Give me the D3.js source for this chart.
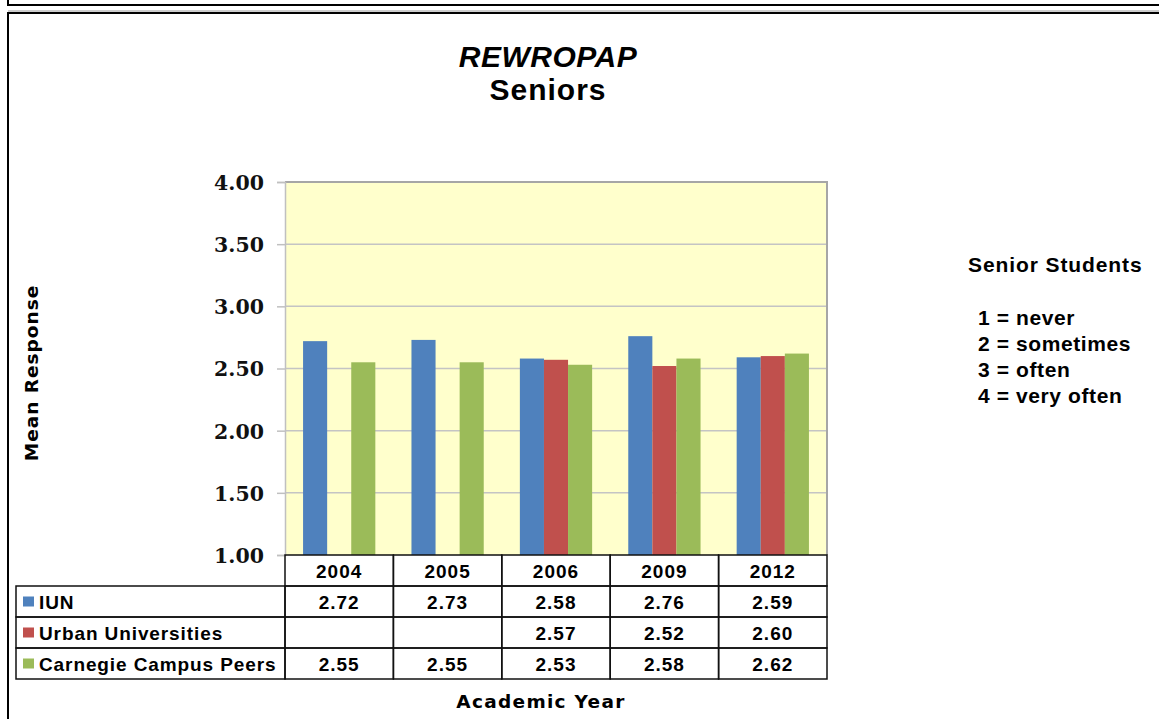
<!DOCTYPE html>
<html>
<head>
<meta charset="utf-8">
<script src="https://cdn.jsdelivr.net/npm/d3@7"></script>
<style>
  body { margin: 0; background: #fff; }
  svg { display: block; }
</style>
</head>
<body>
<svg></svg>
<script>
var width = 1159;
var height = 719;

// data
var years = ["2004", "2005", "2006", "2009", "2012"];
var seriesNames = ["IUN", "Urban Universities", "Carnegie Campus Peers"];
var iun = [2.72, 2.73, 2.58, 2.76, 2.59];
var urban = [null, null, 2.57, 2.52, 2.60];
var carnegie = [2.55, 2.55, 2.53, 2.58, 2.62];
var yTicks = [1.00, 1.50, 2.00, 2.50, 3.00, 3.50, 4.00];
var scaleNotes = ["1 = never", "2 = sometimes", "3 = often", "4 = very often"];

var colors = ["#4f81bd", "#c0504d", "#9bbb59"];
var seriesValues = [iun, urban, carnegie];

var svg = d3.select("svg")
    .attr("width", width)
    .attr("height", height);

//outer frame lines
svg.append("line")
    .attr("x1", 7).attr("x2", width).attr("y1", 5).attr("y2", 5)
    .attr("stroke", "#000").attr("stroke-width", 2);
svg.append("line")
    .attr("x1", 8).attr("x2", 8).attr("y1", 0).attr("y2", 6)
    .attr("stroke", "#000").attr("stroke-width", 2);
svg.append("line")
    .attr("x1", 8).attr("x2", width).attr("y1", 11).attr("y2", 11)
    .attr("stroke", "#999").attr("stroke-width", 1);
svg.append("rect")
    .attr("x", 8).attr("y", 13).attr("width", width + 10).attr("height", height + 10)
    .attr("fill", "none").attr("stroke", "#000").attr("stroke-width", 2);

var plot = {left: 285, right: 827, top: 182, bottom: 555};

//scales
var xScale = d3.scaleBand()
    .domain(years)
    .range([plot.left, plot.right]);
var inner = d3.scaleBand()
    .domain(seriesNames)
    .range([0, xScale.bandwidth()])
    .paddingInner(0)
    .paddingOuter(0.75);
var yScale = d3.scaleLinear()
    .domain([1, 4])
    .range([plot.bottom, plot.top]);

//plot background
svg.append("rect")
    .attr("x", plot.left).attr("y", plot.top)
    .attr("width", plot.right - plot.left).attr("height", plot.bottom - plot.top)
    .attr("fill", "#ffffcc");

//grid lines
svg.append("g")
    .selectAll("line")
    .data(yTicks.filter(d => d > 1 && d < 4))
    .enter()
    .append("line")
    .attr("x1", plot.left).attr("x2", plot.right)
    .attr("y1", d => yScale(d)).attr("y2", d => yScale(d))
    .attr("stroke", "#c4c4c4").attr("stroke-width", 1.5);

//plot border top and right
svg.append("path")
    .attr("d", "M" + plot.left + "," + plot.top + "H" + plot.right + "V" + plot.bottom)
    .attr("fill", "none").attr("stroke", "#a6a6a6").attr("stroke-width", 2);

//y axis
var yAxis = d3.axisLeft(yScale)
    .tickValues(yTicks)
    .tickSize(8)
    .tickPadding(13)
    .tickFormat(d3.format(".2f"));
var yAxisG = svg.append("g")
    .attr("transform", "translate(" + plot.left + ",0)")
    .call(yAxis);
yAxisG.select(".domain").attr("stroke", "#c0c0c0").attr("stroke-width", 1.5);
yAxisG.selectAll(".tick line").attr("stroke", "#c0c0c0").attr("stroke-width", 1.5);
yAxisG.selectAll(".tick text")
    .attr("font-family", "DejaVu Serif")
    .attr("font-weight", "bold")
    .attr("font-size", 20.5)
    .attr("fill", "#111")
    .attr("dy", "0.36em");

//bars
var bars = svg.append("g")
    .selectAll("g")
    .data(seriesNames)
    .enter()
    .append("g")
    .attr("fill", (d, i) => colors[i]);
bars.selectAll("rect")
    .data((s, i) => years.map((y, j) => ({year: y, series: s, value: seriesValues[i][j]})).filter(d => d.value != null))
    .enter()
    .append("rect")
    .attr("x", d => xScale(d.year) + inner(d.series))
    .attr("width", inner.bandwidth())
    .attr("y", d => yScale(d.value))
    .attr("height", d => yScale(1) - yScale(d.value));

//data table
var rowH = 31;
var headTop = plot.bottom;
var tableLeft = 16;
var table = svg.append("g");
var lineColor = "#111";
var tableFont = "Liberation Sans, Arial, sans-serif";

//header cells
years.forEach(function(y) {
    table.append("rect")
        .attr("x", xScale(y)).attr("y", headTop)
        .attr("width", xScale.bandwidth()).attr("height", rowH)
        .attr("fill", "none").attr("stroke", lineColor).attr("stroke-width", 1.5);
    table.append("text")
        .attr("x", xScale(y) + xScale.bandwidth() / 2)
        .attr("y", headTop + rowH / 2 + 7)
        .attr("text-anchor", "middle")
        .attr("font-family", tableFont)
        .attr("font-weight", "bold")
        .attr("font-size", 19)
        .attr("letter-spacing", 1)
        .text(y);
});

seriesNames.forEach(function(s, i) {
    var top = headTop + rowH * (i + 1);
    table.append("rect")
        .attr("x", tableLeft).attr("y", top)
        .attr("width", plot.left - tableLeft).attr("height", rowH)
        .attr("fill", "none").attr("stroke", lineColor).attr("stroke-width", 1.5);
    table.append("rect")
        .attr("x", tableLeft + 7).attr("y", top + rowH / 2 - 5)
        .attr("width", 11).attr("height", 10)
        .attr("fill", colors[i]);
    table.append("text")
        .attr("x", tableLeft + 23)
        .attr("y", top + rowH / 2 + 7)
        .attr("font-family", tableFont)
        .attr("font-weight", "bold")
        .attr("font-size", 19)
        .attr("letter-spacing", 0.9)
        .text(s);
    years.forEach(function(y, j) {
        table.append("rect")
            .attr("x", xScale(y)).attr("y", top)
            .attr("width", xScale.bandwidth()).attr("height", rowH)
            .attr("fill", "none").attr("stroke", lineColor).attr("stroke-width", 1.5);
        var v = seriesValues[i][j];
        if (v != null) {
            table.append("text")
                .attr("x", xScale(y) + xScale.bandwidth() / 2)
                .attr("y", top + rowH / 2 + 7)
                .attr("text-anchor", "middle")
                .attr("font-family", tableFont)
                .attr("font-weight", "bold")
                .attr("font-size", 19)
                .attr("letter-spacing", 1)
                .text(d3.format(".2f")(v));
        }
    });
});

//titles
svg.append("text")
    .attr("x", 548).attr("y", 67)
    .attr("text-anchor", "middle")
    .attr("font-family", tableFont)
    .attr("font-weight", "bold")
    .attr("font-style", "italic")
    .attr("font-size", 30)
    .attr("letter-spacing", 0.5)
    .text("REWROPAP");
svg.append("text")
    .attr("x", 548).attr("y", 100)
    .attr("text-anchor", "middle")
    .attr("font-family", tableFont)
    .attr("font-weight", "bold")
    .attr("font-size", 30)
    .attr("letter-spacing", 1)
    .text("Seniors");

svg.append("text")
    .attr("transform", "translate(38,373) rotate(-90)")
    .attr("text-anchor", "middle")
    .attr("font-family", "DejaVu Sans")
    .attr("font-weight", "bold")
    .attr("font-size", 18.5)
    .attr("letter-spacing", 1)
    .text("Mean Response");

svg.append("text")
    .attr("x", 541).attr("y", 708)
    .attr("text-anchor", "middle")
    .attr("font-family", "DejaVu Sans")
    .attr("font-weight", "bold")
    .attr("font-size", 18.5)
    .attr("letter-spacing", 1.3)
    .text("Academic Year");

//scale legend
svg.append("text")
    .attr("x", 968).attr("y", 272)
    .attr("font-family", tableFont)
    .attr("font-weight", "bold")
    .attr("font-size", 21)
    .attr("letter-spacing", 0.9)
    .text("Senior Students");
svg.append("g")
    .selectAll("text")
    .data(scaleNotes)
    .enter()
    .append("text")
    .attr("x", 978)
    .attr("y", (d, i) => 325 + i * 26)
    .attr("font-family", tableFont)
    .attr("font-weight", "bold")
    .attr("font-size", 21)
    .attr("letter-spacing", 0.6)
    .text(d => d);
</script>
</body>
</html>
